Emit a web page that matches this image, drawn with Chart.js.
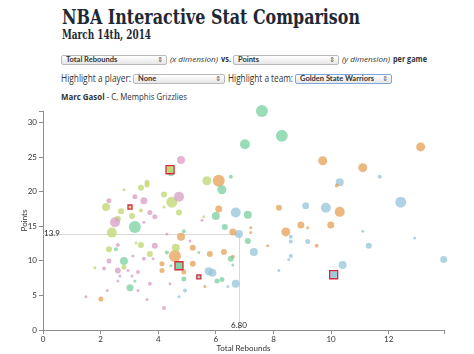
<!DOCTYPE html>
<html>
<head>
<meta charset="utf-8">
<script src="https://cdn.jsdelivr.net/npm/chart.js@4.4.1/dist/chart.umd.min.js"></script>
<style>
body { margin: 0; width: 474px; height: 354px; background: #fff; position: relative; overflow: hidden; font-family: 'Open Sans', sans-serif; color: #333; }
.t { position: absolute; white-space: nowrap; line-height: 1; transform-origin: 0 0; }
.h1 { font: bold 21px 'DejaVu Serif', serif; color: #1e2935; }
.h2 { font: bold 13px 'DejaVu Serif', serif; color: #1e2935; }
.sel { position: absolute; height: 8px; border: 1px solid #b9b9b9; border-radius: 2px; background: linear-gradient(#ffffff, #e6e6e6); }
.sel span { position: absolute; left: 4px; top: 0px; font: bold 7.5px Lato, sans-serif; color: #333; white-space: nowrap; line-height: 8px; }
.sel i { position: absolute; right: 3px; top: 0px; font: 7px 'DejaVu Sans', sans-serif; font-style: normal; color: #555; line-height: 8px; }
#wrap { position: absolute; left: 0; top: 104px; width: 474px; height: 250px; }
</style>
</head>
<body>
<div class="t h1" style="left:62px;top:4px" data-w="298">NBA Interactive Stat Comparison</div>
<div class="t h2" style="left:62px;top:27px" data-w="89">March 14th, 2014</div>

<div class="sel" style="left:61px;top:55px;width:104px"><span>Total Rebounds</span><i>⇕</i></div>
<div class="t" style="left:170px;top:55px;font-size:8px;font-style:italic" data-w="48">(x dimension)</div>
<div class="t" style="left:221px;top:55px;font-size:8px;font-weight:bold" data-w="10">vs.</div>
<div class="sel" style="left:233px;top:55px;width:104px"><span>Points</span><i>⇕</i></div>
<div class="t" style="left:342px;top:55px;font-size:8px;font-style:italic" data-w="48">(y dimension)</div>
<div class="t" style="left:393px;top:55px;font-size:8px;font-weight:bold" data-w="34">per game</div>

<div class="t" style="left:61px;top:73px;font-size:10px" data-w="70">Highlight a player:</div>
<div class="sel" style="left:133px;top:74px;width:90px"><span>None</span><i>⇕</i></div>
<div class="t" style="left:228px;top:73px;font-size:10px" data-w="65">Highlight a team:</div>
<div class="sel" style="left:295px;top:74px;width:95px;border-color:#7fa7d9"><span>Golden State Warriors</span><i>⇕</i></div>

<div class="t" style="left:61px;top:92px;font-size:9px" data-w="126"><b>Marc Gasol</b> - C, Memphis Grizzlies</div>

<div id="wrap"><canvas id="myChart" width="474" height="250"></canvas></div>

<script>
// Per-game stats, grouped by position (rebounds, points, minutes)
const pgReb = [4.79, 4.72, 3.19, 3.50, 2.29, 3.71, 3.88, 3.50, 2.50, 5.52, 4.30, 5.10, 2.60, 3.88, 2.29, 3.12, 3.50, 3.82, 2.12, 2.60, 2.95, 3.30, 2.67, 3.09, 2.60, 3.71, 4.41, 3.30, 2.23, 1.49, 3.61, 4.20];
const pgPts = [24.6, 19.3, 19.3, 18.7, 18.7, 17.0, 16.4, 15.6, 15.6, 15.9, 13.9, 12.9, 12.3, 12.2, 10.0, 10.7, 10.3, 10.3, 8.9, 8.6, 8.6, 8.4, 7.8, 7.8, 7.1, 6.7, 6.7, 5.7, 5.7, 4.8, 4.4, 3.2];
const pgMin = [24, 30, 15, 21, 15, 15, 15, 9, 30, 9, 9, 9, 12, 18, 15, 9, 12, 9, 12, 18, 9, 12, 9, 9, 9, 12, 9, 9, 9, 9, 9, 12];

const sgReb = [4.41, 5.69, 3.61, 3.61, 3.40, 2.81, 4.20, 4.47, 2.19, 2.71, 3.40, 4.20, 4.72, 3.09, 2.60, 2.39, 2.29, 3.40, 3.23, 3.71, 4.61, 2.81, 1.80, 5.58];
const sgPts = [23.2, 21.6, 21.4, 21.0, 20.6, 20.3, 19.6, 18.5, 17.8, 17.2, 17.3, 17.8, 17.0, 16.5, 16.1, 14.1, 11.7, 12.3, 12.6, 11.0, 11.9, 9.1, 9.0, 16.4];
const sgMin = [18, 27, 15, 15, 18, 9, 18, 33, 24, 18, 12, 9, 18, 18, 18, 30, 18, 18, 9, 18, 24, 15, 9, 9];

const sfReb = [7.60, 7.01, 8.29, 6.52, 6.21, 4.44, 3.19, 6.00, 6.31, 7.11, 7.11, 6.52, 6.59, 4.89, 4.30, 5.41, 4.44, 2.81, 2.53, 3.19, 3.02, 4.89, 6.04, 6.21, 4.72];
const sfPts = [31.7, 26.9, 28.1, 22.2, 20.3, 22.7, 14.9, 16.5, 14.9, 16.7, 12.9, 10.3, 9.4, 14.3, 11.2, 11.2, 9.3, 10.0, 11.7, 7.1, 6.1, 7.4, 7.1, 7.3, 9.3];
const sfMin = [36, 30, 36, 12, 27, 18, 36, 24, 18, 24, 18, 18, 9, 12, 12, 9, 9, 24, 12, 9, 21, 15, 15, 15, 24];

const pfReb = [13.11, 9.71, 11.10, 6.10, 10.20, 10.30, 8.19, 6.10, 8.95, 9.19, 9.99, 6.59, 8.43, 7.21, 7.21, 9.50, 7.80, 4.79, 4.58, 5.20, 5.79, 6.28, 6.59, 5.20, 4.13, 4.13, 4.89, 5.62, 2.01];
const pfPts = [26.5, 24.5, 23.5, 21.6, 20.9, 17.1, 17.7, 17.5, 15.2, 14.8, 15.2, 14.2, 14.2, 14.8, 14.1, 12.2, 12.2, 13.5, 10.7, 11.9, 11.0, 11.3, 10.6, 9.6, 8.6, 9.6, 8.4, 6.3, 4.5];
const pfMin = [27, 27, 27, 36, 12, 30, 18, 21, 21, 9, 21, 21, 27, 9, 9, 12, 9, 24, 36, 18, 18, 18, 12, 18, 15, 15, 15, 9, 15];

const cReb = [10.30, 11.69, 12.42, 9.12, 9.82, 6.69, 6.80, 7.32, 8.60, 8.60, 9.19, 11.10, 11.31, 12.90, 8.60, 8.53, 10.40, 8.19, 13.91, 6.69, 5.75, 5.88, 6.42, 4.93, 4.72, 10.09];
const cPts = [21.4, 22.2, 18.5, 18.0, 17.7, 17.0, 13.9, 11.3, 13.5, 12.8, 12.8, 14.3, 12.2, 13.3, 10.7, 10.2, 9.4, 8.6, 10.2, 6.7, 8.5, 8.3, 6.3, 5.7, 4.8, 8.0];
const cMin = [24, 12, 33, 21, 30, 30, 24, 24, 12, 12, 15, 9, 18, 9, 12, 9, 24, 9, 21, 24, 24, 24, 9, 12, 9, 18];

// Golden State Warriors (highlighted team)
const gswReb = [4.41, 3.02, 4.72, 5.41, 10.09];
const gswPts = [23.2, 17.8, 9.3, 7.7, 8.0];
const gswMin = [34, 17, 34, 17, 34];
const gswPos = ['SG', 'SG', 'SF', 'SF', 'C'];

// Hovered player
const hoverName = 'Marc Gasol';
const hoverReb = 6.80;
const hoverPts = 13.9;

const xTicks = [0, 2, 4, 6, 8, 10, 12];
const yTicks = [0, 5, 10, 15, 20, 25, 30];
const xMax = 13.92;
const yMax = 31.7;

const posColors = {
    PG: 'rgba(214, 158, 196, 0.75)',
    SG: 'rgba(190, 214, 110, 0.75)',
    SF: 'rgba(120, 208, 160, 0.75)',
    PF: 'rgba(230, 160, 85, 0.75)',
    C: 'rgba(150, 196, 218, 0.75)'
};

function toPoints(reb, pts, min) {
    return reb.map((x, i) => ({ x: x, y: pts[i], r: min[i] / 6 }));
}

function posDataset(label, reb, pts, min) {
    return {
        label: label,
        data: toPoints(reb, pts, min),
        backgroundColor: posColors[label],
        borderWidth: 0,
        hoverRadius: 0,
        clip: false,
        order: 1
    };
}

// fit text widths like the original page
document.querySelectorAll('[data-w]').forEach(el => {
    const w = el.getBoundingClientRect().width;
    el.style.transform = 'scaleX(' + (parseFloat(el.dataset.w) / w) + ')';
});

const crosshair = {
    id: 'crosshair',
    beforeDatasetsDraw(chart) {
        const { ctx, scales: { x, y } } = chart;
        const px = x.getPixelForValue(hoverReb);
        const py = y.getPixelForValue(hoverPts);
        ctx.save();
        ctx.strokeStyle = '#d9d9d9';
        ctx.lineWidth = 1;
        ctx.beginPath();
        ctx.moveTo(x.left, Math.round(py) + 0.5);
        ctx.lineTo(px, Math.round(py) + 0.5);
        ctx.moveTo(Math.round(px) + 0.5, y.bottom);
        ctx.lineTo(Math.round(px) + 0.5, py);
        ctx.stroke();
        ctx.restore();
    },
    afterDatasetsDraw(chart) {
        const { ctx, scales: { x, y } } = chart;
        const px = x.getPixelForValue(hoverReb);
        const py = y.getPixelForValue(hoverPts);
        ctx.save();
        ctx.fillStyle = '#222';
        ctx.font = '8px Lato';
        ctx.textBaseline = 'bottom';
        ctx.textAlign = 'left';
        ctx.fillText(hoverPts.toFixed(1), x.left + 1, py + 3);
        ctx.textAlign = 'center';
        ctx.fillText(hoverReb.toFixed(2), px, y.bottom - 1);
        ctx.restore();
    }
};

const ctx = document.getElementById('myChart').getContext('2d');
const myChart = new Chart(ctx, {
    type: 'bubble',
    data: {
        datasets: [
            {
                label: 'GSW',
                data: toPoints(gswReb, gswPts, gswMin),
                pointStyle: 'rect',
                backgroundColor: gswPos.map(p => posColors[p]),
                borderColor: '#d8283a',
                borderWidth: 1.3,
                hoverRadius: 0,
                clip: false,
                order: 0
            },
            posDataset('PG', pgReb, pgPts, pgMin),
            posDataset('SG', sgReb, sgPts, sgMin),
            posDataset('SF', sfReb, sfPts, sfMin),
            posDataset('PF', pfReb, pfPts, pfMin),
            posDataset('C', cReb, cPts, cMin)
        ]
    },
    options: {
        responsive: false,
        animation: false,
        events: [],
        layout: { padding: { top: 7, right: 30, left: 0, bottom: 0 } },
        plugins: { legend: { display: false }, tooltip: { enabled: false } },
        scales: {
            x: {
                type: 'linear',
                min: 0,
                max: xMax,
                afterBuildTicks: scale => { scale.ticks = xTicks.concat([xMax]).map(v => ({ value: v })); },
                afterFit: scale => { scale.height = 24; },
                ticks: {
                    color: '#333',
                    font: { family: 'Lato', size: 8 },
                    padding: 1,
                    maxRotation: 0,
                    callback: v => xTicks.includes(v) ? String(v) : ''
                },
                grid: { drawOnChartArea: false, drawTicks: true, tickLength: 4, color: '#8c8c8c' },
                border: { color: '#8c8c8c', width: 1 },
                title: { display: true, text: 'Total Rebounds', color: '#333', font: { family: 'Lato', size: 8 }, padding: { top: 0, bottom: 1 } }
            },
            y: {
                type: 'linear',
                min: 0,
                max: yMax,
                afterBuildTicks: scale => { scale.ticks = yTicks.concat([yMax]).map(v => ({ value: v })); },
                afterFit: scale => { scale.width = 43; },
                ticks: {
                    color: '#333',
                    font: { family: 'Lato', size: 8 },
                    padding: 2,
                    callback: v => yTicks.includes(v) ? String(v) : ''
                },
                grid: { drawOnChartArea: false, drawTicks: true, tickLength: 4, color: '#8c8c8c' },
                border: { color: '#8c8c8c', width: 1 },
                title: { display: true, text: 'Points', color: '#333', font: { family: 'Lato', size: 8 }, padding: { top: 20, bottom: 0 } }
            }
        }
    },
    plugins: [crosshair]
});
</script>
</body>
</html>
